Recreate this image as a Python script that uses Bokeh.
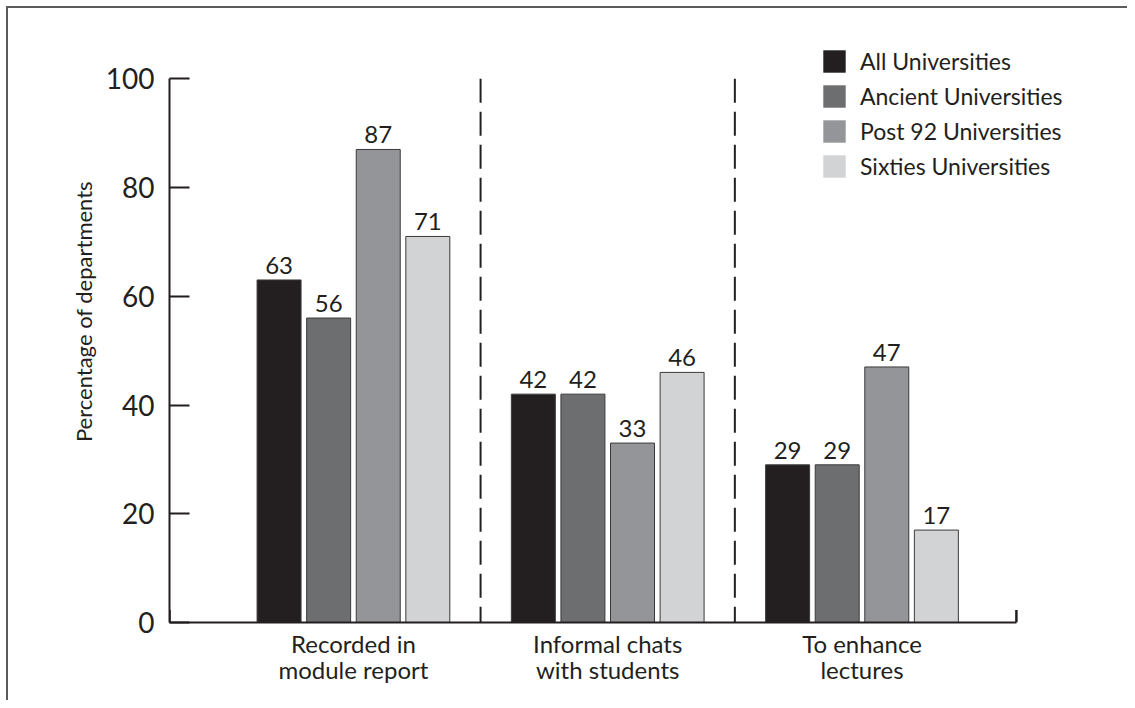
from bokeh.plotting import figure
from bokeh.models import Range1d, FixedTicker, Legend, LegendItem, ColumnDataSource
from bokeh.core.properties import value
from bokeh.embed import file_html
from bokeh.resources import INLINE

# ---- data ----
categories = ["Recorded in\nmodule report", "Informal chats\nwith students", "To enhance\nlectures"]
series_names = ["All Universities", "Ancient Universities", "Post 92 Universities", "Sixties Universities"]
all_univ = [63, 42, 29]
ancient_univ = [56, 42, 29]
post92_univ = [87, 33, 47]
sixties_univ = [71, 46, 17]
y_ticks = [0, 20, 40, 60, 80, 100]

series_values = [all_univ, ancient_univ, post92_univ, sixties_univ]
colors = ["#231f20", "#6d6e70", "#939598", "#d1d3d4"]
INK = "#231f20"
FONT = "Lato"
FRAME_LINE = "#5a5b5d"

group_pos = [i + 1 for i in range(len(categories))]
step = 0.195
bar_w = 0.173
x_lo, x_hi = 0.2766, 3.6073

p = figure(width=1127, height=700, output_backend="svg", toolbar_location=None,
           x_range=Range1d(x_lo, 3.938), y_range=Range1d(0, 114.4),
           min_border_left=169, min_border_right=27, min_border_top=0, min_border_bottom=78)
p.styles = {
    "background": (f"linear-gradient({FRAME_LINE},{FRAME_LINE}) 6px 6px / 2px 100% no-repeat, "
                   f"linear-gradient({FRAME_LINE},{FRAME_LINE}) 6px 6px / 100% 2px no-repeat, white"),
}
p.border_fill_alpha = 0
p.background_fill_alpha = 0
p.outline_line_color = None
p.xgrid.visible = False
p.ygrid.visible = False

# bars: fill (used by legend) and outline drawn separately
fill_renderers = []
for k, (vals, col) in enumerate(zip(series_values, colors)):
    xs = [g + (k - 1.5) * step for g in group_pos]
    src = ColumnDataSource(dict(x=xs, top=vals, lab=[str(v) for v in vals]))
    r = p.vbar(x="x", top="top", width=bar_w, source=src, fill_color=col, line_color=None)
    fill_renderers.append(r)
    p.vbar(x="x", top="top", width=bar_w, source=src, fill_color=None,
           line_color="#3b3a3b", line_width=1)
    p.text(x="x", y="top", text="lab", source=src, text_align="center",
           text_baseline="bottom", y_offset=-6, text_font=value(FONT),
           text_font_size="24px", text_color=INK)

# dashed separators between groups
for a, b in zip(group_pos[:-1], group_pos[1:]):
    sep = (a + b) / 2
    p.line(x=[sep, sep], y=[y_ticks[-1], y_ticks[0]], line_color=INK,
           line_width=2, line_dash="24 9")

# end ticks of the x axis
p.segment(x0=[x_lo, x_hi], y0=[0, 0], x1=[x_lo, x_hi], y1=[2.3, 2.3],
          line_color=INK, line_width=2.5)

# y axis
ya = p.yaxis[0]
ya.ticker = FixedTicker(ticks=y_ticks)
ya.bounds = (y_ticks[0], y_ticks[-1])
ya.major_tick_in = 20
ya.major_tick_out = 0
ya.minor_tick_line_color = None
ya.axis_line_width = 2
ya.axis_line_color = INK
ya.major_tick_line_width = 2
ya.major_tick_line_color = INK
ya.major_label_text_font = FONT
ya.major_label_text_font_size = "28px"
ya.major_label_text_color = INK
ya.major_label_standoff = 15
ya.axis_label = "Percentage of departments"
ya.axis_label_text_font = FONT
ya.axis_label_text_font_size = "22px"
ya.axis_label_text_font_style = "normal"
ya.axis_label_text_color = INK
ya.axis_label_standoff = 6

# x axis
xa = p.xaxis[0]
xa.ticker = FixedTicker(ticks=group_pos)
xa.major_label_overrides = {g: c for g, c in zip(group_pos, categories)}
xa.bounds = (x_lo, x_hi)
xa.major_tick_in = 0
xa.major_tick_out = 0
xa.minor_tick_line_color = None
xa.axis_line_width = 2
xa.axis_line_color = INK
xa.major_label_text_font = FONT
xa.major_label_text_font_size = "24px"
xa.major_label_text_line_height = 0.9
xa.major_label_text_color = INK
xa.major_label_standoff = 6

# legend
items = [LegendItem(label=name, renderers=[r]) for name, r in zip(series_names, fill_renderers)]
legend = Legend(items=items, location=(651, 442), glyph_width=28, glyph_height=28,
                spacing=7, label_standoff=12, padding=0, margin=0,
                border_line_color=None, background_fill_alpha=0,
                label_text_font=FONT, label_text_font_size="23px",
                label_text_color=INK, label_height=28)
p.add_layout(legend)

open("out.html", "w").write(file_html(p, INLINE))
